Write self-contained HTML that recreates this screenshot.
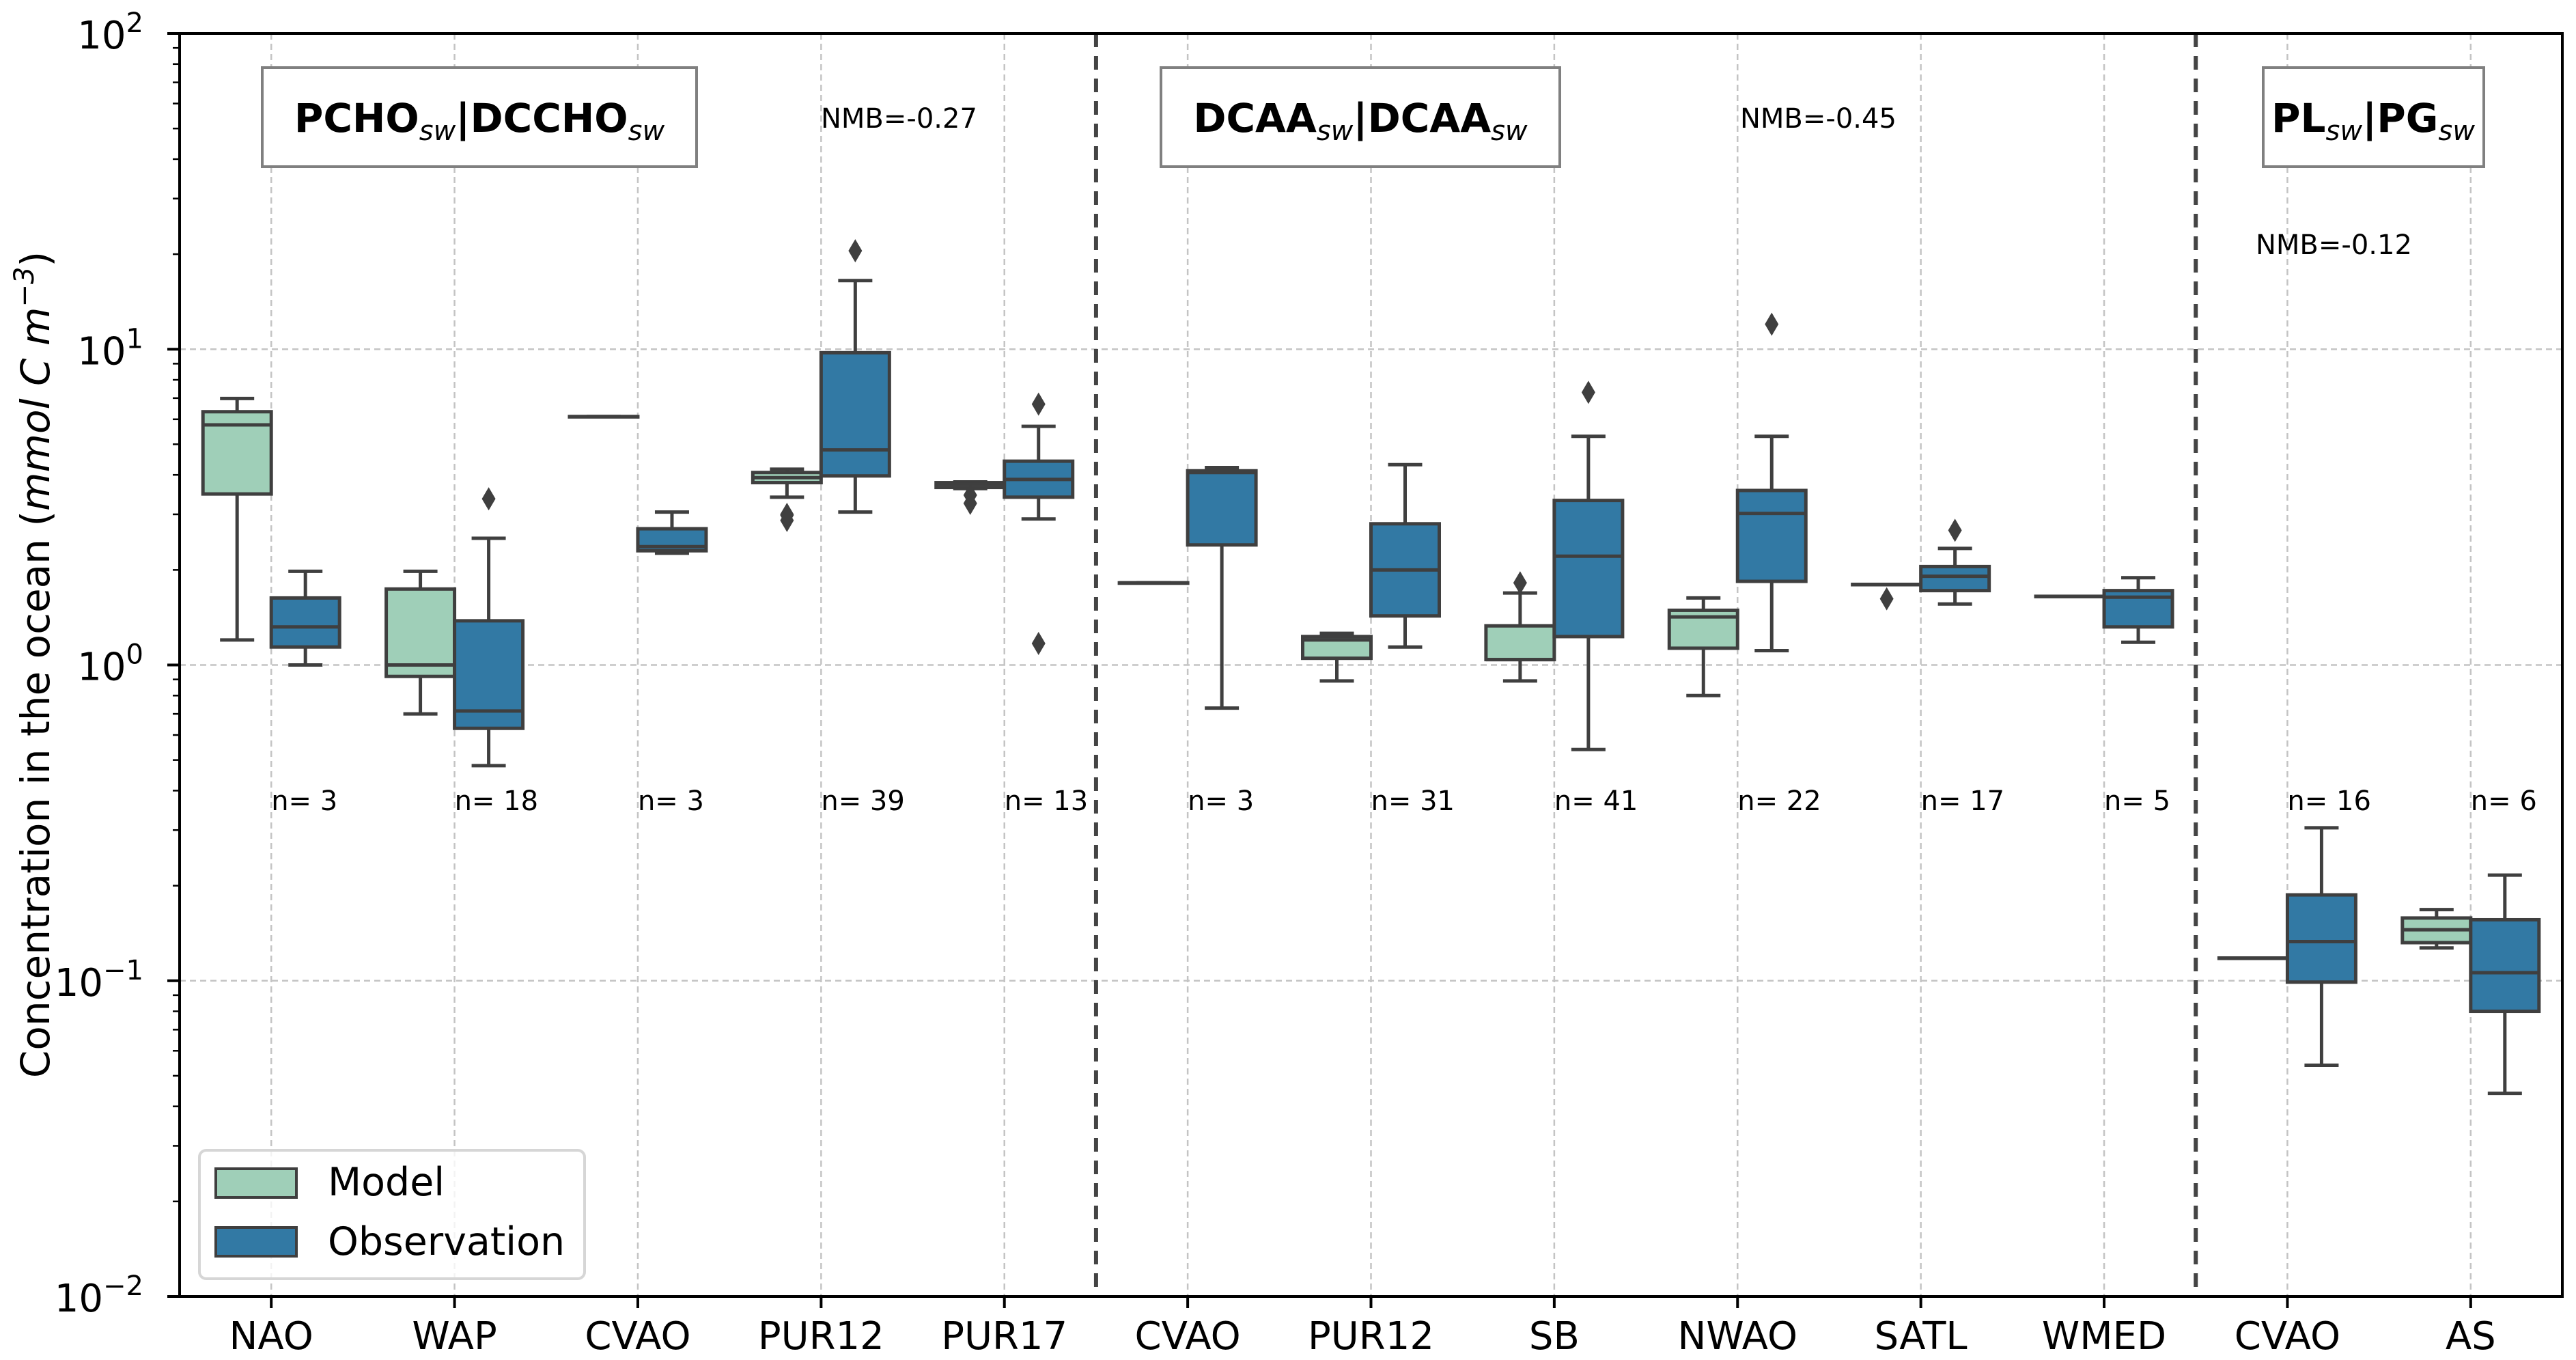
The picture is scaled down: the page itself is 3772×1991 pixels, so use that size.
<!DOCTYPE html>
<html><head><meta charset="utf-8"><style>
html,body{margin:0;padding:0;background:#fff;}
svg{display:block;font-family:"DejaVu Sans","Liberation Sans",sans-serif;}
</style></head><body>
<svg id="chart" width="3772" height="1991" viewBox="0 0 3772 1991" xmlns="http://www.w3.org/2000/svg">
<rect x="0" y="0" width="3772" height="1991" fill="#fff"/>
<g id="grid"></g>
<g id="marks"></g>
<g id="axes"></g>
<text transform="translate(72,973) rotate(-90)" text-anchor="middle" font-size="58">Concentration in the ocean (<tspan font-style="italic">mmol C m</tspan><tspan font-style="italic" dy="-23" font-size="40">−3</tspan><tspan dy="23">)</tspan></text>
<g>
<rect x="384" y="99" width="636" height="145" fill="#fff" stroke="#808080" stroke-width="4"/>
<text x="702" y="193" text-anchor="middle" font-size="58" font-weight="bold">PCHO<tspan font-size="40" font-style="italic" font-weight="normal" dy="12">sw</tspan><tspan dy="-12">|DCCHO</tspan><tspan font-size="40" font-style="italic" font-weight="normal" dy="12">sw</tspan></text>
</g>
<g>
<rect x="1700" y="99" width="584" height="145" fill="#fff" stroke="#808080" stroke-width="4"/>
<text x="1992" y="193" text-anchor="middle" font-size="58" font-weight="bold">DCAA<tspan font-size="40" font-style="italic" font-weight="normal" dy="12">sw</tspan><tspan dy="-12">|DCAA</tspan><tspan font-size="40" font-style="italic" font-weight="normal" dy="12">sw</tspan></text>
</g>
<g>
<rect x="3314" y="99" width="323" height="145" fill="#fff" stroke="#808080" stroke-width="4"/>
<text x="3475" y="193" text-anchor="middle" font-size="58" font-weight="bold">PL<tspan font-size="40" font-style="italic" font-weight="normal" dy="12">sw</tspan><tspan dy="-12">|PG</tspan><tspan font-size="40" font-style="italic" font-weight="normal" dy="12">sw</tspan></text>
</g>
<text x="1202" y="187" font-size="40">NMB=-0.27</text>
<text x="2548" y="187" font-size="40">NMB=-0.45</text>
<text x="3303" y="372" font-size="40">NMB=-0.12</text>
<g>
<rect x="292" y="1684" width="564" height="188" rx="10" fill="#fff" fill-opacity="0.8" stroke="#d6d6d6" stroke-width="4"/>
<rect x="316" y="1711" width="118" height="42" fill="#9fcfb8" stroke="#3f3f3f" stroke-width="4"/>
<text x="480" y="1750" font-size="57">Model</text>
<rect x="316" y="1797" width="118" height="42" fill="#3279a4" stroke="#3f3f3f" stroke-width="4"/>
<text x="480" y="1837" font-size="57">Observation</text>
</g>
<script>
const categories = ["NAO","WAP","CVAO","PUR12","PUR17","CVAO","PUR12","SB","NWAO","SATL","WMED","CVAO","AS"];
const nLabels = ["n= 3","n= 18","n= 3","n= 39","n= 13","n= 3","n= 31","n= 41","n= 22","n= 17","n= 5","n= 16","n= 6"];
// [whiskerLow, q1, median, q3, whiskerHigh]
const modelStats = [
 [1.2,3.48,5.76,6.34,6.98],[0.70,0.92,1.0,1.74,1.98],[6.12,6.12,6.12,6.12,6.12],[3.4,3.78,3.92,4.07,4.17],
 [3.62,3.65,3.74,3.78,3.8],[1.82,1.82,1.82,1.82,1.82],[0.89,1.05,1.2,1.23,1.26],[0.89,1.04,1.04,1.33,1.69],
 [0.8,1.13,1.42,1.49,1.63],[1.8,1.8,1.8,1.8,1.8],[1.65,1.65,1.65,1.65,1.65],[0.118,0.118,0.118,0.118,0.118],
 [0.127,0.132,0.145,0.158,0.168]];
const obsStats = [
 [1.0,1.14,1.32,1.63,1.98],[0.48,0.63,0.715,1.38,2.52],[2.26,2.3,2.37,2.7,3.05],[3.05,3.97,4.8,9.75,16.5],
 [2.9,3.4,3.87,4.42,5.7],[0.73,2.4,4.07,4.12,4.22],[1.14,1.43,2.0,2.8,4.31],[0.54,1.23,2.21,3.32,5.3],
 [1.11,1.84,3.02,3.57,5.3],[1.56,1.72,1.91,2.05,2.34],[1.18,1.32,1.64,1.72,1.89],[0.054,0.099,0.133,0.187,0.305],
 [0.044,0.08,0.106,0.156,0.216]];
const modelOutliers = [[],[],[],[3.0,2.87,2.98],[3.45,3.25],[],[],[1.82],[],[1.62],[],[],[]];
const obsOutliers = [[],[3.36],[],[20.5],[6.7,1.17],[],[],[7.3],[12.0],[2.67],[],[],[]];
const yTickExps = [2,1,0,-1,-2];
const separators = [5,11];

const NS="http://www.w3.org/2000/svg";
const L=263,R=3752,T=49,B=1898;
const step=(R-L)/categories.length;
function xPos(i){return L+step*(i+0.5);}
function yPos(v){return T+(2-Math.log10(v))*(B-T)/4;}
function mk(tag,attrs,parent){const e=document.createElementNS(NS,tag);for(const k in attrs)e.setAttribute(k,attrs[k]);parent.appendChild(e);return e;}
const grid=document.getElementById('grid'),marks=document.getElementById('marks'),axes=document.getElementById('axes');

categories.forEach((c,i)=>{
  const l=mk('line',{x1:xPos(i),x2:xPos(i),y1:T,y2:B,stroke:'#c4c4c4','stroke-width':2.5,'stroke-dasharray':'9,6'},grid);
  
  
});
yTickExps.forEach(e=>{
  const y=yPos(Math.pow(10,e));
  const l=mk('line',{x1:L,x2:R,y1:y,y2:y,stroke:'#c4c4c4','stroke-width':2.5,'stroke-dasharray':'9,6'},grid);
  
  
});
separators.forEach(s=>{
  const x=L+step*s;
  const l=mk('line',{x1:x,x2:x,y1:T,y2:B,stroke:'#444','stroke-width':6,'stroke-dasharray':'20,13'},grid);
  
  
});

function drawBox(cx,st,outs,fill,name){
  const g=mk('g',{},marks);
  
  
  const w=100,cw=50,sc='#3f3f3f',sw=5;
  const [lo,q1,md,q3,hi]=st;
  mk('line',{x1:cx,x2:cx,y1:yPos(hi),y2:yPos(q3),stroke:sc,'stroke-width':sw},g);
  mk('line',{x1:cx,x2:cx,y1:yPos(q1),y2:yPos(lo),stroke:sc,'stroke-width':sw},g);
  mk('line',{x1:cx-cw/2,x2:cx+cw/2,y1:yPos(hi),y2:yPos(hi),stroke:sc,'stroke-width':sw},g);
  mk('line',{x1:cx-cw/2,x2:cx+cw/2,y1:yPos(lo),y2:yPos(lo),stroke:sc,'stroke-width':sw},g);
  const top=yPos(q3),bot=yPos(q1);
  mk('rect',{x:cx-w/2,y:top,width:w,height:Math.max(bot-top,0.5),fill:fill,stroke:sc,'stroke-width':sw},g);
  mk('line',{x1:cx-w/2,x2:cx+w/2,y1:yPos(md),y2:yPos(md),stroke:sc,'stroke-width':sw},g);
  outs.forEach(o=>{
    const y=yPos(o);
    const p=mk('polygon',{points:`${cx},${y-17} ${cx+10},${y} ${cx},${y+17} ${cx-10},${y}`,fill:sc},g);
    
    
  });
}
categories.forEach((c,i)=>{
  const cx=xPos(i);
  drawBox(cx-50,modelStats[i],modelOutliers[i],'#9fcfb8','model-box-'+c.toLowerCase());
  drawBox(cx+50,obsStats[i],obsOutliers[i],'#3279a4','observation-box-'+c.toLowerCase());
  const t=mk('text',{x:cx,y:1186,'font-size':40},marks);
  t.textContent=nLabels[i];
  
  
  const tk=mk('line',{x1:cx,x2:cx,y1:B,y2:B+17,stroke:'#000','stroke-width':4},axes);
  
  
  const tl=mk('text',{x:cx,y:1975,'font-size':56,'text-anchor':'middle'},axes);
  tl.textContent=c;
  
  
});
yTickExps.forEach(e=>{
  const y=yPos(Math.pow(10,e));
  mk('line',{x1:L-18,x2:L,y1:y,y2:y,stroke:'#000','stroke-width':4},axes);
  const t=mk('text',{x:210,y:y+22,'font-size':56,'text-anchor':'end'},axes);
  
  
  const a=document.createElementNS(NS,'tspan');a.textContent='10';t.appendChild(a);
  const b=document.createElementNS(NS,'tspan');b.setAttribute('dy','-24');b.setAttribute('font-size','40');b.textContent=(e<0?'−':'')+Math.abs(e);t.appendChild(b);
  if(e>-2){for(let m=2;m<=9;m++){const ym=yPos(m*Math.pow(10,e-1));mk('line',{x1:L-10,x2:L,y1:ym,y2:ym,stroke:'#000','stroke-width':2.5},axes);}}
});
const frame=mk('rect',{x:L,y:T,width:R-L,height:B-T,fill:'none',stroke:'#000','stroke-width':4},axes);


</script>
</svg>
</body></html>
